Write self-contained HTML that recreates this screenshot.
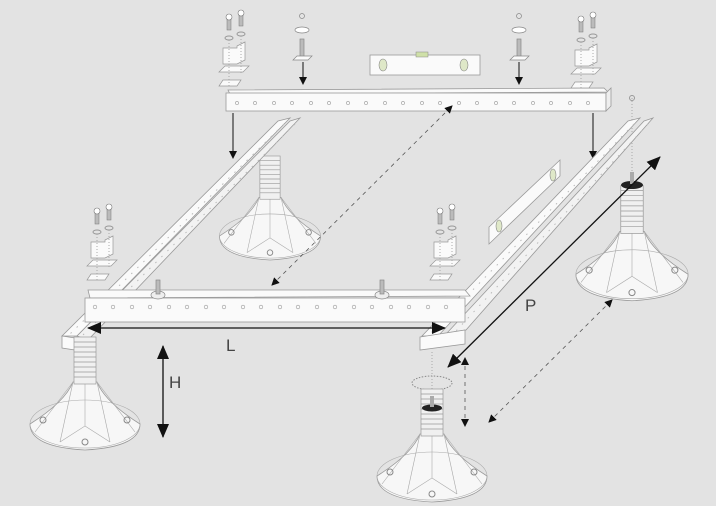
<!DOCTYPE html>
<html><head><meta charset="utf-8"><style>
html,body{margin:0;padding:0;background:#e3e3e3;}
svg{display:block;}
text{font-family:"Liberation Sans",sans-serif;fill:#444;}
</style></head><body>
<svg width="716" height="506" viewBox="0 0 716 506" xmlns="http://www.w3.org/2000/svg">
<defs>
<marker id="ah" markerWidth="8" markerHeight="8" refX="7" refY="4" orient="auto" markerUnits="userSpaceOnUse"><path d="M0,0 L8,4 L0,8 z" fill="#111"/></marker>
<marker id="ahs" markerWidth="8" markerHeight="8" refX="1" refY="4" orient="auto" markerUnits="userSpaceOnUse"><path d="M8,0 L0,4 L8,8 z" fill="#111"/></marker>
<marker id="big" markerWidth="14" markerHeight="12" refX="13" refY="6" orient="auto" markerUnits="userSpaceOnUse"><path d="M0,0 L14,6 L0,12 z" fill="#111"/></marker>
<marker id="bigs" markerWidth="14" markerHeight="12" refX="1" refY="6" orient="auto" markerUnits="userSpaceOnUse"><path d="M14,0 L0,6 L14,12 z" fill="#111"/></marker>
<g id="ped">
 <path d="M-55,12 Q-20,-10 -12,-30 L12,-30 Q20,-10 55,12 Q55,35 0,38 Q-55,35 -55,12 z" fill="#f7f7f7" stroke="#999" stroke-width="0.8"/>
 <ellipse cx="0" cy="12" rx="55" ry="24" fill="none" stroke="#aaa" stroke-width="0.6"/>
 <path d="M-12,-30 L-25,30 M12,-30 L25,30 M-12,-30 L-50,20 M12,-30 L50,20 M0,-30 L0,14 L-25,30 M0,14 L25,30" stroke="#aaa" stroke-width="0.6" fill="none"/>
 <circle cx="0" cy="30" r="3" fill="none" stroke="#888"/>
 <circle cx="-42" cy="8" r="3" fill="none" stroke="#888"/>
 <circle cx="42" cy="8" r="3" fill="none" stroke="#888"/>
 <rect x="-11" y="-75" width="22" height="47" fill="#f0f0f0" stroke="#999" stroke-width="0.7"/>
 <g stroke="#999" stroke-width="0.7">
  <line x1="-11" y1="-70" x2="11" y2="-70"/><line x1="-11" y1="-65" x2="11" y2="-65"/><line x1="-11" y1="-60" x2="11" y2="-60"/><line x1="-11" y1="-55" x2="11" y2="-55"/><line x1="-11" y1="-50" x2="11" y2="-50"/><line x1="-11" y1="-45" x2="11" y2="-45"/><line x1="-11" y1="-40" x2="11" y2="-40"/><line x1="-11" y1="-35" x2="11" y2="-35"/>
 </g>
</g>
<g id="brk">
 <rect x="-2" y="0" width="4" height="12" fill="#bbb" stroke="#777" stroke-width="0.5"/>
 <circle cx="0" cy="-1" r="3" fill="#fff" stroke="#777" stroke-width="0.6"/>
 <rect x="10" y="-4" width="4" height="12" fill="#bbb" stroke="#777" stroke-width="0.5"/>
 <circle cx="12" cy="-5" r="3" fill="#fff" stroke="#777" stroke-width="0.6"/>
 <ellipse cx="0" cy="20" rx="4" ry="2" fill="none" stroke="#999"/>
 <ellipse cx="12" cy="16" rx="4" ry="2" fill="none" stroke="#999"/>
 <path d="M-6,30 L8,30 L8,28 L16,24 L16,42 L8,46 L-6,46 z" fill="#fafafa" stroke="#999" stroke-width="0.7"/>
 <path d="M-10,54 L14,54 L20,48 L-4,48 z" fill="#fafafa" stroke="#999" stroke-width="0.7"/>
 <path d="M-10,68 L8,68 L12,62 L-6,62 z" fill="#fafafa" stroke="#999" stroke-width="0.7"/>
 <line x1="0" y1="22" x2="0" y2="68" stroke="#aaa" stroke-dasharray="1,2"/>
 <line x1="12" y1="18" x2="12" y2="56" stroke="#aaa" stroke-dasharray="1,2"/>
</g>
</defs>
<rect width="716" height="506" fill="#e3e3e3"/>

<!-- back pedestal left -->
<use href="#ped" x="270" y="225" transform="translate(270,225) scale(0.92) translate(-270,-225)"/>
<!-- left rail -->
<polygon points="278,121 290,118 77,336 62,336" fill="#fafafa" stroke="#999" stroke-width="0.8"/>
<polygon points="290,121 300,118 88,340 77,336" fill="#f2f2f2" stroke="#999" stroke-width="0.8"/>
<line x1="284" y1="124" x2="70" y2="334" stroke="#bbb" stroke-width="1" stroke-dasharray="1.5,7"/>
<line x1="295" y1="124" x2="82" y2="336" stroke="#bbb" stroke-width="1" stroke-dasharray="1.5,7"/>
<polygon points="62,336 88,340 88,352 62,348" fill="#fafafa" stroke="#999" stroke-width="0.8"/>

<!-- top beam -->
<polygon points="228,90 604,88 608,92 230,94" fill="#fafafa" stroke="#999" stroke-width="0.8"/>
<rect x="226" y="93" width="380" height="18" fill="#fafafa" stroke="#999" stroke-width="0.8"/>
<polygon points="606,93 611,88 611,106 606,111" fill="#eee" stroke="#999" stroke-width="0.8"/>
<g fill="none" stroke="#999" stroke-width="0.6">
<circle cx="237" cy="103" r="1.6"/><circle cx="255" cy="103" r="1.6"/><circle cx="274" cy="103" r="1.6"/><circle cx="292" cy="103" r="1.6"/><circle cx="311" cy="103" r="1.6"/><circle cx="329" cy="103" r="1.6"/><circle cx="348" cy="103" r="1.6"/><circle cx="366" cy="103" r="1.6"/><circle cx="385" cy="103" r="1.6"/><circle cx="403" cy="103" r="1.6"/><circle cx="422" cy="103" r="1.6"/><circle cx="440" cy="103" r="1.6"/><circle cx="459" cy="103" r="1.6"/><circle cx="477" cy="103" r="1.6"/><circle cx="496" cy="103" r="1.6"/><circle cx="514" cy="103" r="1.6"/><circle cx="533" cy="103" r="1.6"/><circle cx="551" cy="103" r="1.6"/><circle cx="570" cy="103" r="1.6"/><circle cx="588" cy="103" r="1.6"/>
</g>

<!-- level top -->
<rect x="370" y="55" width="110" height="20" fill="#fafafa" stroke="#999" stroke-width="0.8"/>
<rect x="416" y="52" width="12" height="5" fill="#cfe0a8" stroke="#888" stroke-width="0.5"/>
<ellipse cx="383" cy="65" rx="4" ry="6" fill="#dfe8c8" stroke="#888" stroke-width="0.6"/>
<ellipse cx="464" cy="65" rx="4" ry="6" fill="#dfe8c8" stroke="#888" stroke-width="0.6"/>

<!-- top brackets -->
<use href="#brk" x="229" y="18"/>
<use href="#brk" x="581" y="20"/>
<!-- top studs -->
<g stroke="#888" stroke-width="0.7">
<circle cx="302" cy="16" r="2.5" fill="none"/><ellipse cx="302" cy="30" rx="7" ry="3" fill="#fff"/><rect x="300" y="39" width="4" height="18" fill="#bbb"/><path d="M293,60 L308,60 L312,56 L297,56 z" fill="#fafafa"/>
<circle cx="519" cy="16" r="2.5" fill="none"/><ellipse cx="519" cy="30" rx="7" ry="3" fill="#fff"/><rect x="517" y="39" width="4" height="18" fill="#bbb"/><path d="M510,60 L525,60 L529,56 L514,56 z" fill="#fafafa"/>
</g>
<line x1="303" y1="62" x2="303" y2="84" stroke="#111" marker-end="url(#ah)"/>
<line x1="519" y1="62" x2="519" y2="84" stroke="#111" marker-end="url(#ah)"/>
<line x1="233" y1="113" x2="233" y2="158" stroke="#111" marker-end="url(#ah)"/>
<line x1="593" y1="113" x2="593" y2="158" stroke="#111" marker-end="url(#ah)"/>

<!-- right back pedestal -->
<line x1="632" y1="95" x2="632" y2="175" stroke="#aaa" stroke-dasharray="1,2"/>
<circle cx="632" cy="98" r="2.5" fill="none" stroke="#999"/>
<use href="#ped" x="0" y="0" transform="translate(632,262) scale(1.02)"/>
<ellipse cx="632" cy="185" rx="11" ry="4" fill="#222"/>
<rect x="630" y="172" width="4" height="12" fill="#aaa"/>

<!-- right rail -->
<polygon points="628,121 640,118 438,336 422,336" fill="#fafafa" stroke="#999" stroke-width="0.8"/>
<polygon points="644,121 653,118 466,330 447,333" fill="#f2f2f2" stroke="#999" stroke-width="0.8"/>
<line x1="634" y1="124" x2="430" y2="334" stroke="#bbb" stroke-width="1" stroke-dasharray="1.5,7"/>
<line x1="648" y1="124" x2="456" y2="331" stroke="#bbb" stroke-width="1" stroke-dasharray="1.5,7"/>
<polygon points="420,337 465,330 465,344 420,350" fill="#fafafa" stroke="#999" stroke-width="0.8"/>

<!-- right level -->
<polygon points="489,227 560,160 560,176 489,244" fill="#fafafa" stroke="#999" stroke-width="0.8"/>
<ellipse cx="553" cy="175" rx="3" ry="6" fill="#dfe8c8" stroke="#888" stroke-width="0.6"/>
<ellipse cx="499" cy="226" rx="3" ry="6" fill="#dfe8c8" stroke="#888" stroke-width="0.6"/>

<!-- mid brackets -->
<use href="#brk" x="97" y="212"/>
<use href="#brk" x="440" y="212"/>

<!-- front beam -->
<polygon points="88,290 465,290 470,296 90,298" fill="#fafafa" stroke="#999" stroke-width="0.8"/>
<rect x="85" y="298" width="380" height="24" fill="#fafafa" stroke="#999" stroke-width="0.8"/>
<g fill="none" stroke="#999" stroke-width="0.6">
<circle cx="95" cy="307" r="1.8"/><circle cx="113" cy="307" r="1.8"/><circle cx="132" cy="307" r="1.8"/><circle cx="150" cy="307" r="1.8"/><circle cx="169" cy="307" r="1.8"/><circle cx="187" cy="307" r="1.8"/><circle cx="206" cy="307" r="1.8"/><circle cx="224" cy="307" r="1.8"/><circle cx="243" cy="307" r="1.8"/><circle cx="261" cy="307" r="1.8"/><circle cx="280" cy="307" r="1.8"/><circle cx="298" cy="307" r="1.8"/><circle cx="317" cy="307" r="1.8"/><circle cx="335" cy="307" r="1.8"/><circle cx="354" cy="307" r="1.8"/><circle cx="372" cy="307" r="1.8"/><circle cx="391" cy="307" r="1.8"/><circle cx="409" cy="307" r="1.8"/><circle cx="428" cy="307" r="1.8"/><circle cx="446" cy="307" r="1.8"/>
</g>
<g stroke="#888" stroke-width="0.7">
<ellipse cx="158" cy="295" rx="7" ry="4" fill="#eee"/><rect x="156" y="280" width="4" height="14" fill="#bbb"/>
<ellipse cx="382" cy="295" rx="7" ry="4" fill="#eee"/><rect x="380" y="280" width="4" height="14" fill="#bbb"/>
</g>

<!-- front left pedestal -->
<use href="#ped" x="0" y="0" transform="translate(85,412)"/>
<!-- front right pedestal -->
<ellipse cx="432" cy="383" rx="20" ry="7" fill="none" stroke="#888" stroke-dasharray="1.5,1.5"/>
<line x1="432" y1="352" x2="432" y2="398" stroke="#aaa" stroke-dasharray="1,2"/>
<use href="#ped" x="0" y="0" transform="translate(432,464)"/>
<ellipse cx="432" cy="408" rx="10" ry="3.5" fill="#222"/>
<rect x="430" y="396" width="4" height="11" fill="#aaa"/>

<!-- dimension arrows -->
<line x1="88" y1="328" x2="445" y2="328" stroke="#111" stroke-width="1.3" marker-start="url(#bigs)" marker-end="url(#big)"/>
<line x1="163" y1="346" x2="163" y2="437" stroke="#111" stroke-width="1.3" marker-start="url(#bigs)" marker-end="url(#big)"/>
<line x1="448" y1="367" x2="660" y2="157" stroke="#111" stroke-width="1.3" marker-start="url(#bigs)" marker-end="url(#big)"/>
<line x1="272" y1="285" x2="452" y2="106" stroke="#555" stroke-width="0.8" stroke-dasharray="4,4" marker-start="url(#ahs)" marker-end="url(#ah)"/>
<line x1="465" y1="358" x2="465" y2="426" stroke="#555" stroke-width="0.8" stroke-dasharray="4,4" marker-start="url(#ahs)" marker-end="url(#ah)"/>
<line x1="489" y1="422" x2="612" y2="300" stroke="#555" stroke-width="0.8" stroke-dasharray="4,4" marker-start="url(#ahs)" marker-end="url(#ah)"/>

<text x="226" y="351" font-size="17">L</text>
<text x="169" y="388" font-size="17">H</text>
<text x="525" y="311" font-size="17">P</text>
</svg>
</body></html>
